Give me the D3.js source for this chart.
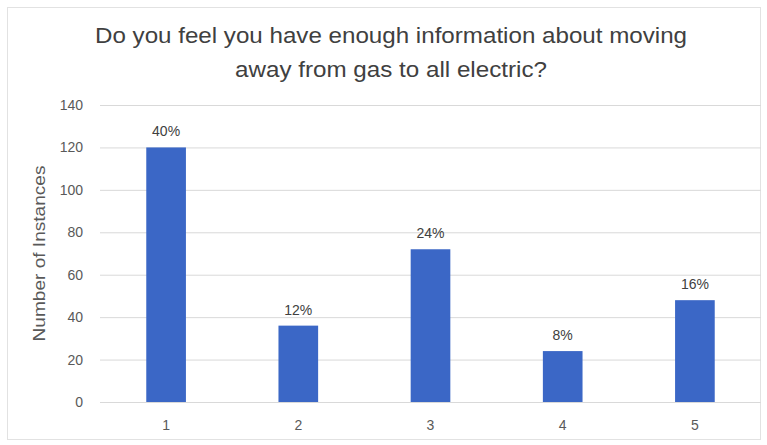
<!DOCTYPE html>
<html>
<head>
<meta charset="utf-8">
<script src="https://cdn.jsdelivr.net/npm/d3@7"></script>
<style>
  body { margin: 0; background: #fff; }
  text { font-family: "Liberation Sans Narrow", "Liberation Sans", Arial, sans-serif; }
</style>
</head>
<body>
<div id="chart"></div>
<script>
// chart data
var categories = ["1", "2", "3", "4", "5"];
var counts = [120, 36, 72, 24, 48];
var percentLabels = ["40%", "12%", "24%", "8%", "16%"];
var yTicks = [0, 20, 40, 60, 80, 100, 120, 140];
var titleLines = ["Do you feel you have enough information about moving", "away from gas to all electric?"];

var width = 767, height = 445;
var margin = {top: 105, right: 6, bottom: 43, left: 100};

var svg = d3.select("#chart").append("svg")
    .attr("width", width)
    .attr("height", height);

// faint frame round the chart
svg.append("rect")
    .attr("x", 7.5).attr("y", 7.5)
    .attr("width", width - 14).attr("height", height - 13)
    .attr("fill", "#fff")
    .attr("stroke", "#e2e2e2");

var x = d3.scaleBand()
    .domain(categories)
    .range([margin.left, width - margin.right])
    .paddingInner(0.7)
    .paddingOuter(0.35);

var y = d3.scaleLinear()
    .domain([0, 140])
    .range([height - margin.bottom, margin.top]);

// gridlines
svg.append("g")
    .selectAll("line")
    .data(yTicks)
    .enter()
    .append("line")
    .attr("x1", margin.left)
    .attr("x2", width - margin.right)
    .attr("y1", function (d) { return y(d) + 0.5; })
    .attr("y2", function (d) { return y(d) + 0.5; })
    .attr("stroke", "#d9d9d9");

// y axis labels
var yAxis = d3.axisLeft(y).tickValues(yTicks).tickSize(0).tickPadding(0);
svg.append("g")
    .attr("transform", "translate(" + (margin.left - 17) + ",0)")
    .call(yAxis)
    .call(function (g) { g.select(".domain").remove(); })
    .selectAll("text")
    .attr("fill", "#595959")
    .style("font-size", "14px");

// x axis labels
var xAxis = d3.axisBottom(x).tickSize(0).tickPadding(0);
svg.append("g")
    .attr("transform", "translate(0," + (height - margin.bottom + 18) + ")")
    .call(xAxis)
    .call(function (g) { g.select(".domain").remove(); })
    .selectAll("text")
    .attr("fill", "#595959")
    .style("font-size", "14px");

// bars
svg.append("g")
    .selectAll("rect")
    .data(counts)
    .enter()
    .append("rect")
    .attr("x", function (d, i) { return x(categories[i]); })
    .attr("y", function (d) { return y(d); })
    .attr("width", x.bandwidth())
    .attr("height", function (d) { return y(0) - y(d); })
    .attr("fill", "#3b67c6");

// percent labels on top of bars
svg.append("g")
    .selectAll("text")
    .data(counts)
    .enter()
    .append("text")
    .attr("x", function (d, i) { return x(categories[i]) + x.bandwidth() / 2; })
    .attr("y", function (d) { return y(d) - 11; })
    .attr("text-anchor", "middle")
    .attr("fill", "#404040")
    .style("font-size", "14px")
    .text(function (d, i) { return percentLabels[i]; });

// y axis title
svg.append("text")
    .attr("transform", "translate(45," + (y(70)) + ") rotate(-90)")
    .attr("text-anchor", "middle")
    .attr("fill", "#595959")
    .style("font-size", "17px")
    .attr("textLength", 176)
    .attr("lengthAdjust", "spacingAndGlyphs")
    .text("Number of Instances");

// chart title, squeezed a little to the narrow face of the original
var titleWidths = [592, 312];
svg.append("g")
    .selectAll("text")
    .data(titleLines)
    .enter()
    .append("text")
    .attr("x", 391)
    .attr("y", function (d, i) { return 43 + i * 34; })
    .attr("text-anchor", "middle")
    .attr("fill", "#404040")
    .style("font-size", "22px")
    .attr("textLength", function (d, i) { return titleWidths[i]; })
    .attr("lengthAdjust", "spacingAndGlyphs")
    .text(function (d) { return d; });
</script>
</body>
</html>
